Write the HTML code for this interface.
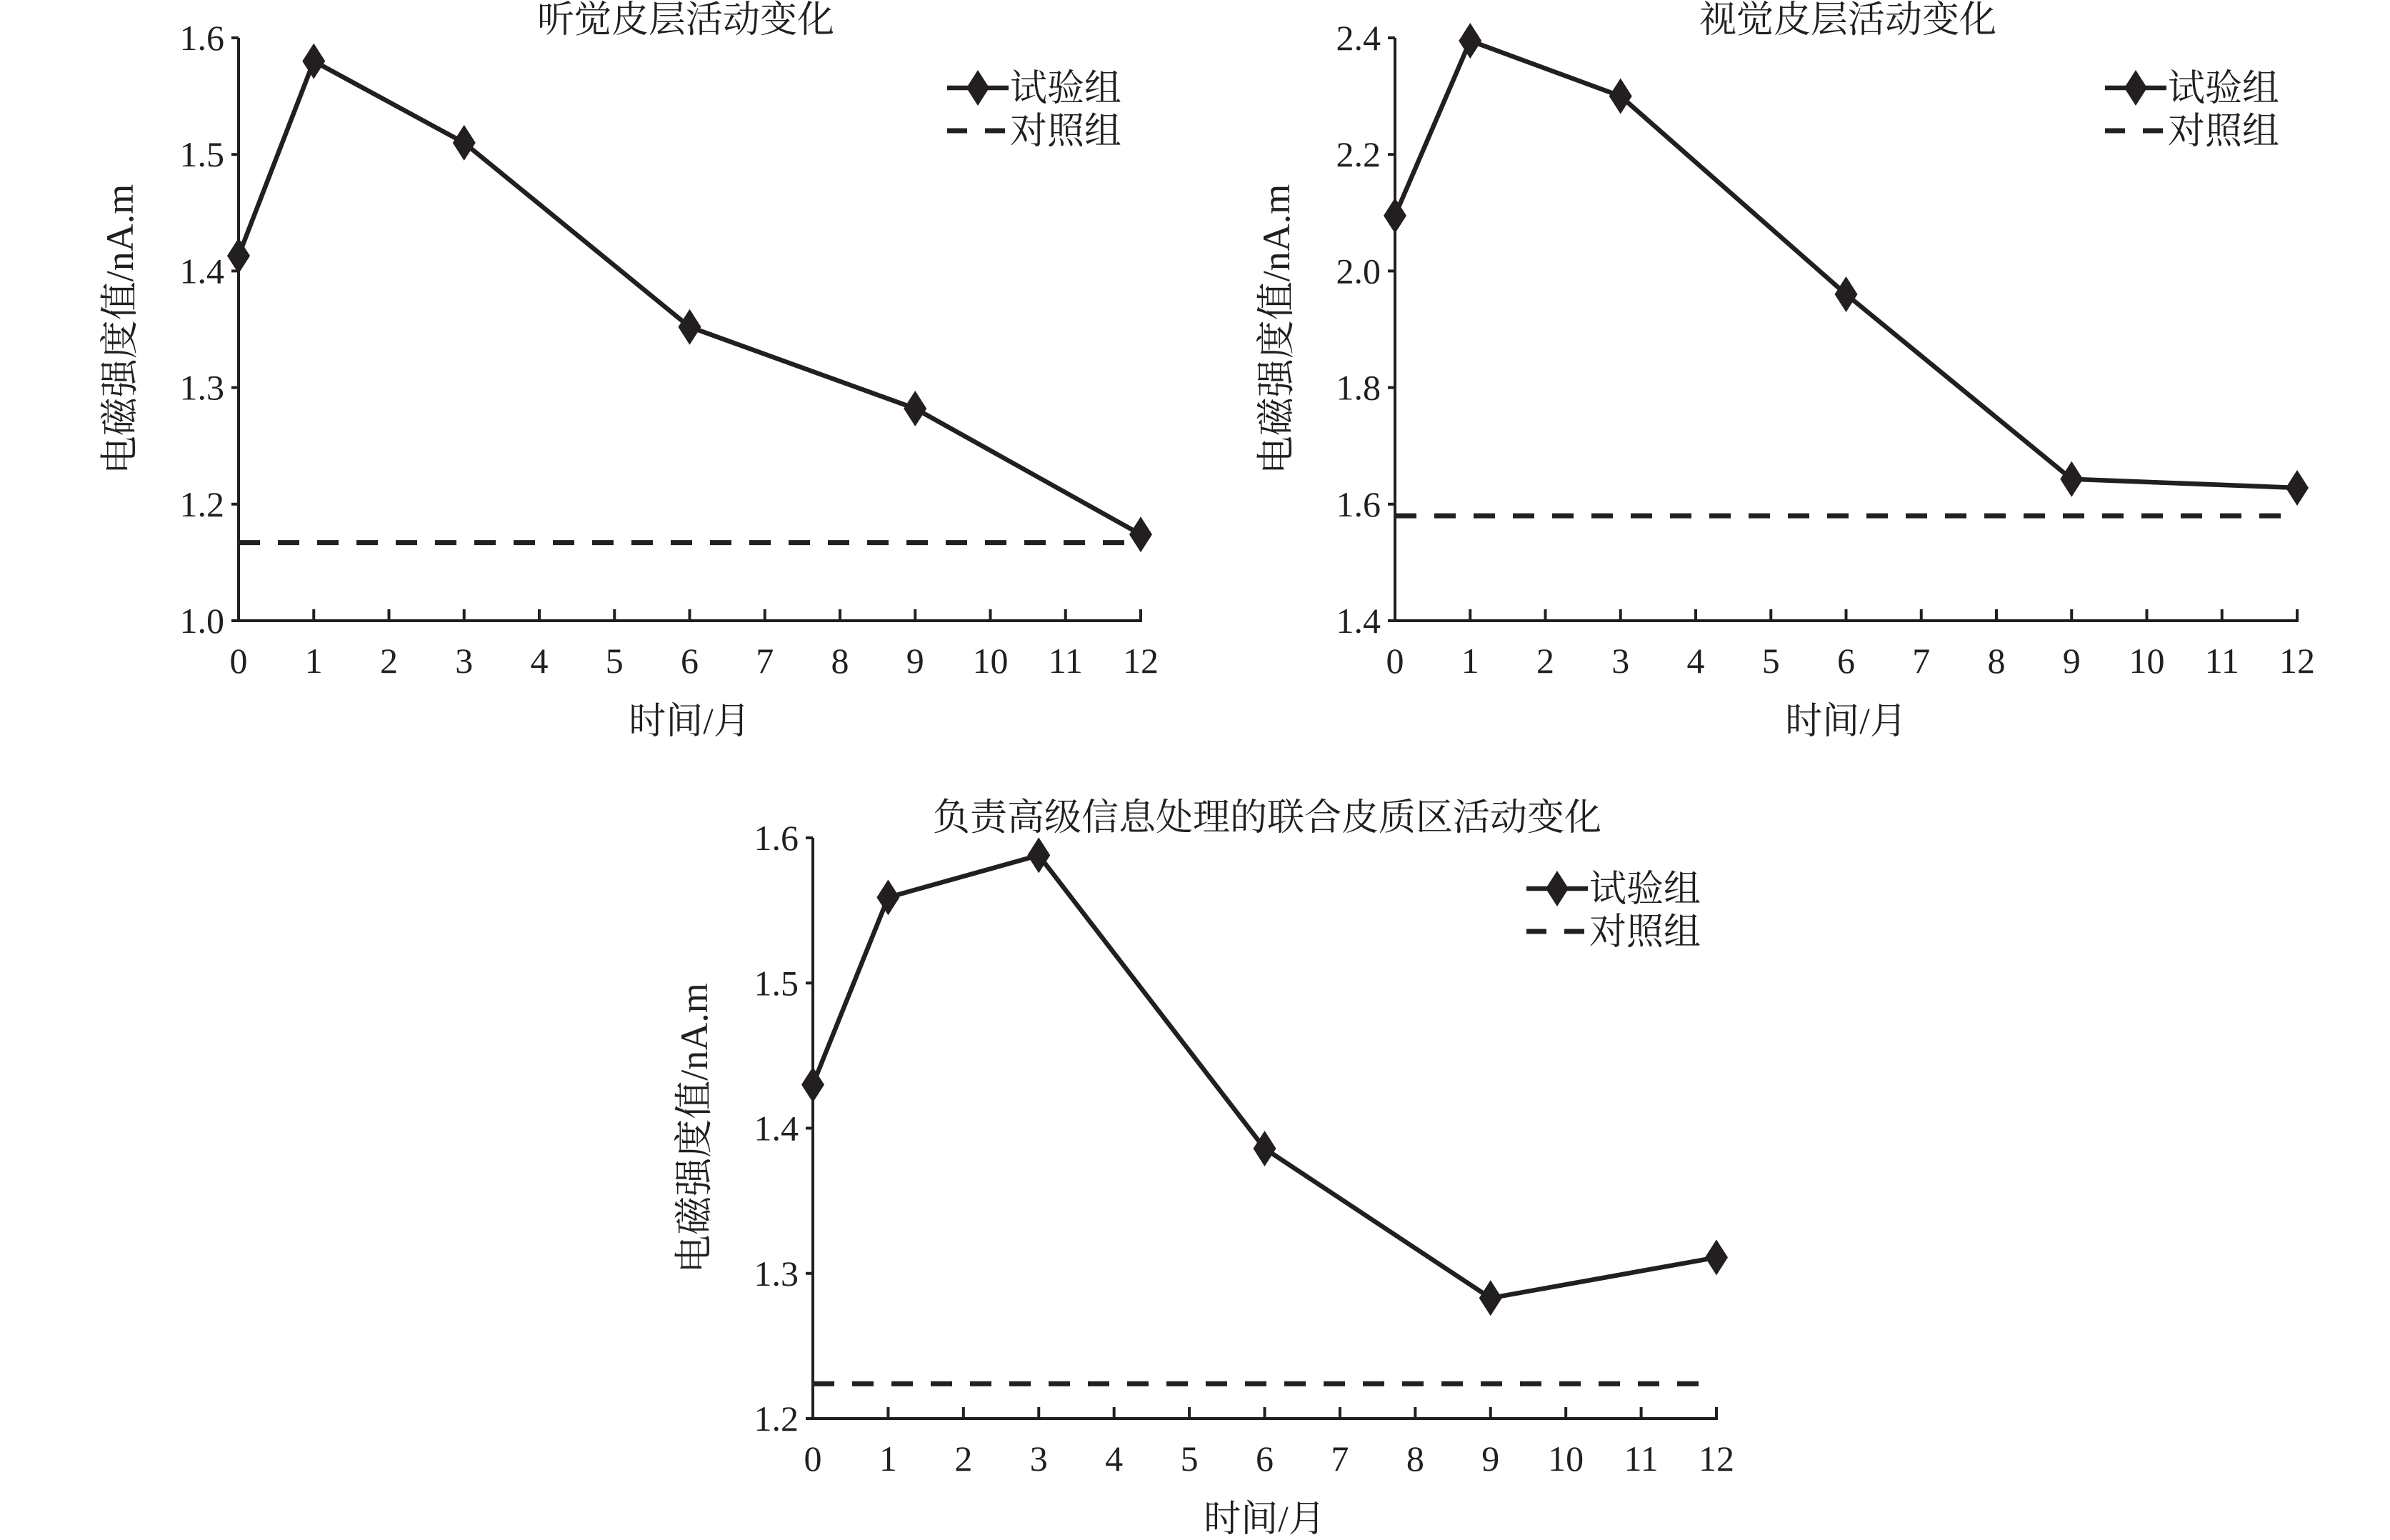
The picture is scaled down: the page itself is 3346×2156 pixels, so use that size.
<!DOCTYPE html>
<html><head><meta charset="utf-8">
<style>
html,body{margin:0;padding:0;background:#fff;}
svg{display:block;}
text{font-family:"Liberation Serif","Noto Serif CJK SC","Noto Sans CJK SC",serif;fill:#231f20;}
</style></head>
<body>
<svg id="chart" width="3346" height="2156" viewBox="0 0 3346 2156" xmlns="http://www.w3.org/2000/svg"></svg>
<script>
const months = ["0","1","2","3","4","5","6","7","8","9","10","11","12"];
const sampleIdx = [0,1,3,6,9,12];
const auditoryValues = [1.413,1.580,1.510,1.352,1.282,1.174];
const auditoryControl = 1.167;
const auditoryTickValues = [1.1,1.2,1.3,1.4,1.5,1.6];
const auditoryTicks = ["1.0","1.2","1.3","1.4","1.5","1.6"];
const visualValues = [2.095,2.395,2.300,1.960,1.643,1.628];
const visualControl = 1.580;
const visualTickValues = [1.4,1.6,1.8,2.0,2.2,2.4];
const visualTicks = ["1.4","1.6","1.8","2.0","2.2","2.4"];
const assocValues = [1.430,1.559,1.588,1.386,1.283,1.311];
const assocControl = 1.224;
const assocTickValues = [1.2,1.3,1.4,1.5,1.6];
const assocTicks = ["1.2","1.3","1.4","1.5","1.6"];

const NS="http://www.w3.org/2000/svg";
const svg=document.getElementById('chart');
function mk(tag,attrs,parent){const e=document.createElementNS(NS,tag);for(const k in attrs)e.setAttribute(k,attrs[k]);(parent||svg).appendChild(e);return e;}

function drawChart(o){
  const g=mk('g',{});
  
  
  const ymin=o.tickValues[0], ymax=o.tickValues[o.tickValues.length-1];
  const xs=i=>o.x0+(o.x1-o.x0)*i/(months.length-1);
  const ys=v=>o.y1-(o.y1-o.y0)*(v-ymin)/(ymax-ymin);
  const ya=mk('line',{x1:o.x0,y1:o.y0,x2:o.x0,y2:o.y1,stroke:'#231f20','stroke-width':4},g);
  
  
  const xa=mk('line',{x1:o.x0-2,y1:o.y1,x2:o.x1+2,y2:o.y1,stroke:'#231f20','stroke-width':4},g);
  
  
  o.tickValues.forEach((tv,k)=>{
    const y=ys(tv);
    mk('line',{x1:o.x0-10,y1:y,x2:o.x0,y2:y,stroke:'#231f20','stroke-width':4},g);
    const tx=mk('text',{x:o.x0-20,y:y+17,'font-size':50,'text-anchor':'end'},g);
    tx.textContent=o.ticks[k];
    
    
  });
  months.forEach((m,i)=>{
    const x=xs(i);
    mk('line',{x1:x,y1:o.y1-16,x2:x,y2:o.y1,stroke:'#231f20','stroke-width':4},g);
    const tx=mk('text',{x:x,y:o.y1+73,'font-size':50,'text-anchor':'middle'},g);
    tx.textContent=m;
    
    
  });
  const tt=mk('text',{x:o.tx,y:o.ty,'font-size':52,'text-anchor':'middle'},g);
  tt.textContent=o.title;
  
  
  const xt=mk('text',{x:(o.x0+o.x1)/2,y:o.y1+158,'font-size':52,'text-anchor':'middle'},g);
  xt.textContent='时间/月';
  
  
  const yc=(o.y0+o.y1)/2;
  const yx=o.x0-166;
  const yt=mk('text',{x:yx,y:yc,'font-size':54,'text-anchor':'middle',transform:`rotate(-90 ${yx} ${yc})`,dy:18},g);
  yt.textContent='电磁强度值/nA.m';
  
  
  const cl=mk('line',{x1:o.x0,y1:ys(o.control),x2:o.x1,y2:ys(o.control),stroke:'#231f20','stroke-width':7,'stroke-dasharray':'30 25'},g);
  
  
  const pts=o.values.map((v,i)=>xs(sampleIdx[i])+','+ys(v)).join(' ');
  const pl=mk('polyline',{points:pts,fill:'none',stroke:'#231f20','stroke-width':6.5,'stroke-linejoin':'round'},g);
  
  
  o.values.forEach((v,i)=>{
    const x=xs(sampleIdx[i]),y=ys(v);
    const d=mk('polygon',{points:`${x},${y-25} ${x+16},${y} ${x},${y+25} ${x-16},${y}`,fill:'#231f20'},g);
    
    
  });
  const lg=mk('g',{},g);
  
  
  mk('line',{x1:o.lx,y1:o.ly,x2:o.lx+86,y2:o.ly,stroke:'#231f20','stroke-width':6.5},lg);
  const cx=o.lx+43;
  mk('polygon',{points:`${cx},${o.ly-25} ${cx+16},${o.ly} ${cx},${o.ly+25} ${cx-16},${o.ly}`,fill:'#231f20'},lg);
  const l1=mk('text',{x:o.lx+88,y:o.ly+18,'font-size':52},lg);
  l1.textContent='试验组';
  
  
  mk('line',{x1:o.lx,y1:o.ly+60,x2:o.lx+86,y2:o.ly+60,stroke:'#231f20','stroke-width':7,'stroke-dasharray':'28 25'},lg);
  const l2=mk('text',{x:o.lx+88,y:o.ly+78,'font-size':52},lg);
  l2.textContent='对照组';
  
  
}

drawChart({name:'auditory-chart',title:'听觉皮层活动变化',x0:334,x1:1597,y0:53,y1:869,tickValues:auditoryTickValues,ticks:auditoryTicks,values:auditoryValues,control:auditoryControl,tx:960,ty:45,lx:1326,ly:123});
drawChart({name:'visual-chart',title:'视觉皮层活动变化',x0:1953,x1:3216,y0:53,y1:869,tickValues:visualTickValues,ticks:visualTicks,values:visualValues,control:visualControl,tx:2587,ty:45,lx:2947,ly:123});
drawChart({name:'association-chart',title:'负责高级信息处理的联合皮质区活动变化',x0:1138,x1:2403,y0:1173,y1:1986,tickValues:assocTickValues,ticks:assocTicks,values:assocValues,control:assocControl,tx:1774,ty:1162,lx:2137,ly:1244});
</script>
</body></html>
